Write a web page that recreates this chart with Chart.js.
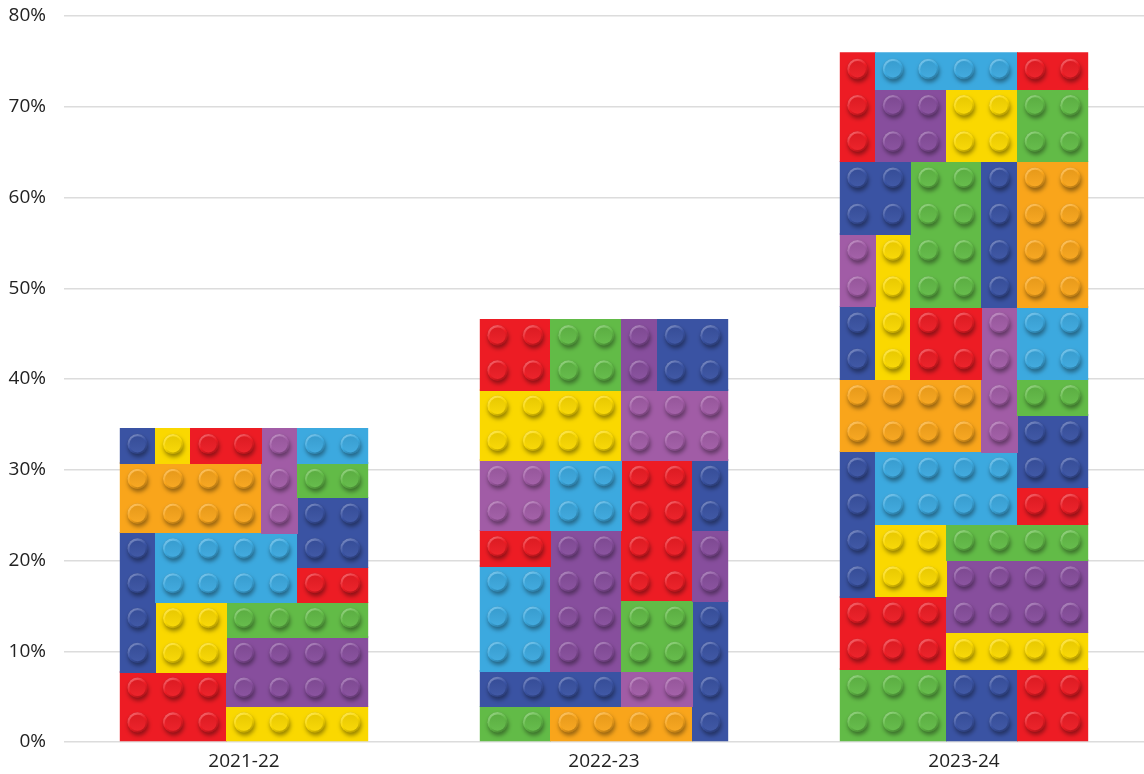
<!DOCTYPE html>
<html>
<head>
<meta charset="utf-8">
<title>Share by season</title>
<script src="https://cdn.jsdelivr.net/npm/chart.js@4.4.1/dist/chart.umd.min.js"></script>
<style>
  html, body { margin: 0; padding: 0; background: #fff; }
  #wrap { width: 1144px; height: 774px; }
</style>
</head>
<body>
<div id="wrap"><canvas id="chart" width="1144" height="774"></canvas></div>
<script>
"use strict";

// Values
const seasons = ['2021-22', '2022-23', '2023-24'];
const shares = [34.6, 46.6, 76.0];
const yTicks = [0, 10, 20, 30, 40, 50, 60, 70, 80];

// Brick colours
const palette = {
  R: '#ed1c24', Y: '#fad800', O: '#f9a51b', G: '#62bb47',
  C: '#3ca9df', B: '#3a53a3', P: '#874e9d', M: '#a15ca6'
};

// Decorative brick fill for each bar, in stud units (7 studs across)
// each brick: [col, row from bottom, width, height, colour]
const brickCols = 7;
const brickRows = [9, 12, 19];
const brickPatterns = [
  [[0,0,3,2,'R'],[3,0,4,1,'Y'],[3,1,4,2,'P'],[3,3,4,1,'G'],[1,2,2,2,'Y'],[0,2,1,4,'B'],
   [1,4,4,2,'C'],[5,4,2,1,'R'],[5,5,2,2,'B'],[0,6,4,2,'O'],[4,6,1,3,'M'],[5,7,2,1,'G'],
   [0,8,1,1,'B'],[1,8,1,1,'Y'],[2,8,2,1,'R'],[5,8,2,1,'C']],
  [[0,0,2,1,'G'],[2,0,4,1,'O'],[6,0,1,4,'B'],[0,1,4,1,'B'],[4,1,2,1,'M'],[0,2,2,3,'C'],
   [2,2,2,4,'P'],[4,2,2,2,'G'],[4,4,2,4,'R'],[6,4,1,2,'P'],[0,5,2,1,'R'],[0,6,2,2,'M'],
   [2,6,2,2,'C'],[6,6,1,2,'B'],[0,8,4,2,'Y'],[4,8,3,2,'M'],[0,10,2,2,'R'],[2,10,2,2,'G'],
   [4,10,1,2,'P'],[5,10,2,2,'B']],
  [[0,0,3,2,'G'],[3,0,2,2,'B'],[5,0,2,2,'R'],[0,2,3,2,'R'],[3,2,4,1,'Y'],[3,3,4,2,'P'],
   [0,4,1,4,'B'],[1,4,2,2,'Y'],[3,5,4,1,'G'],[1,6,4,2,'C'],[5,6,2,1,'R'],[5,7,2,2,'B'],
   [0,8,4,2,'O'],[4,8,1,4,'M'],[5,9,2,1,'G'],[0,10,1,2,'B'],[1,10,1,4,'Y'],[2,10,2,2,'R'],
   [5,10,2,2,'C'],[0,12,1,2,'M'],[2,12,2,4,'G'],[4,12,1,4,'B'],[5,12,2,4,'O'],[0,14,2,2,'B'],
   [0,16,1,3,'R'],[1,16,2,2,'P'],[3,16,2,2,'Y'],[5,16,2,2,'G'],[1,18,4,1,'C'],[5,18,2,1,'R']]
];

// lighten (amt > 0) or darken (amt < 0) a hex colour
function shade(hex, amt) {
  const n = parseInt(hex.slice(1), 16);
  const t = amt < 0 ? 0 : 255;
  const p = Math.abs(amt);
  const mix = c => Math.round((t - c) * p + c);
  return `rgb(${mix(n >> 16)},${mix((n >> 8) & 255)},${mix(n & 255)})`;
}

function drawStud(ctx, cx, cy, r, col) {
  // drop shadow under the stud
  ctx.save();
  ctx.shadowColor = 'rgba(0,0,0,0.4)';
  ctx.shadowBlur = r * 0.4;
  ctx.shadowOffsetX = r * 0.08;
  ctx.shadowOffsetY = r * 0.3;
  ctx.beginPath();
  ctx.arc(cx, cy, r, 0, Math.PI * 2);
  ctx.fillStyle = shade(col, -0.2);
  ctx.fill();
  ctx.restore();

  // rim: light on the top left, dark on the bottom right
  const rim = ctx.createLinearGradient(cx - r * 0.6, cy - r, cx + r * 0.6, cy + r);
  rim.addColorStop(0, shade(col, 0.35));
  rim.addColorStop(0.5, col);
  rim.addColorStop(1, shade(col, -0.3));
  ctx.beginPath();
  ctx.arc(cx, cy, r, 0, Math.PI * 2);
  ctx.fillStyle = rim;
  ctx.fill();

  // top face
  const face = ctx.createLinearGradient(cx, cy - r, cx, cy + r);
  face.addColorStop(0, shade(col, -0.08));
  face.addColorStop(1, shade(col, 0.04));
  ctx.beginPath();
  ctx.arc(cx, cy + r * 0.03, r * 0.8, 0, Math.PI * 2);
  ctx.fillStyle = face;
  ctx.fill();
}

// paints the brick pattern inside each bar the library has laid out
const brickFill = {
  id: 'brickFill',
  afterDatasetsDraw(chart) {
    const ctx = chart.ctx;
    const meta = chart.getDatasetMeta(0);
    meta.data.forEach((bar, i) => {
      const p = bar.getProps(['x', 'y', 'base', 'width'], true);
      const left = p.x - p.width / 2;
      const colW = p.width / brickCols;
      const rowH = (p.base - p.y) / brickRows[i];
      const r = Math.min(colW, rowH) * 0.29;

      ctx.save();
      ctx.beginPath();
      ctx.rect(left, p.y, p.width, p.base - p.y);
      ctx.clip();

      brickPatterns[i].forEach(([c, row, w, h, key]) => {
        const col = palette[key];
        const x0 = left + c * colW;
        const y0 = p.base - (row + h) * rowH;
        ctx.fillStyle = col;
        ctx.fillRect(Math.floor(x0), Math.floor(y0), Math.ceil(w * colW) + 1, Math.ceil(h * rowH) + 1);
      });
      brickPatterns[i].forEach(([c, row, w, h, key]) => {
        const col = palette[key];
        for (let dx = 0; dx < w; dx++) {
          for (let dy = 0; dy < h; dy++) {
            const cx = left + (c + dx + 0.5) * colW;
            const cy = p.base - (row + dy + 0.5) * rowH - rowH * 0.04;
            drawStud(ctx, cx, cy, r, col);
          }
        }
      });
      ctx.restore();
    });
  }
};

const labelFont = { family: "'Open Sans', 'Noto Sans', sans-serif", size: 19 };

new Chart(document.getElementById('chart'), {
  type: 'bar',
  data: {
    labels: seasons,
    datasets: [{
      data: shares,
      backgroundColor: 'rgba(0,0,0,0)',
      borderWidth: 0,
      categoryPercentage: 1,
      barPercentage: 0.69
    }]
  },
  options: {
    responsive: false,
    animation: false,
    layout: { padding: { top: 16, right: 0, bottom: 0, left: 0 } },
    plugins: {
      legend: { display: false },
      tooltip: { enabled: false }
    },
    scales: {
      x: {
        afterFit(scale) { scale.height = 32; },
        grid: { display: false, drawTicks: false },
        border: { display: false },
        ticks: { padding: 8, color: '#222', font: labelFont }
      },
      y: {
        min: 0,
        max: 80,
        afterFit(scale) {
          scale.width = 64;
          // the top label may overhang; the chart area starts at 80%
          scale.paddingTop = 0;
          scale.paddingBottom = 0;
        },
        afterBuildTicks(scale) { scale.ticks = yTicks.map(v => ({ value: v })); },
        border: { display: false },
        grid: { color: '#dcdcdc', lineWidth: 1.5, drawTicks: false },
        ticks: { padding: 18, color: '#222', font: labelFont, callback: v => v + '%' }
      }
    }
  },
  plugins: [brickFill]
});
</script>
</body>
</html>
